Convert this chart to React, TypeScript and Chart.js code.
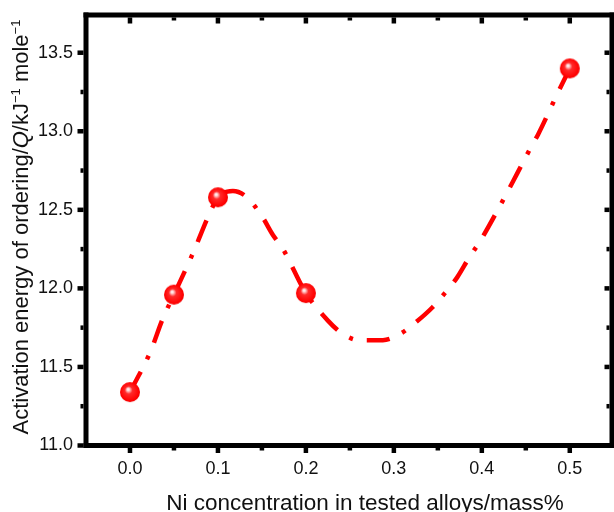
import React, { useEffect, useRef } from "react";
import { Chart, registerables } from "chart.js";

Chart.register(...registerables);

// Measured data points
const concentration = [0, 0.05, 0.1, 0.2, 0.5];
const activationEnergy = [11.34, 11.96, 12.58, 11.97, 13.4];

// Fitted curve
const curveX = [0, 0.0227, 0.0375, 0.05, 0.0705, 0.094, 0.1, 0.117, 0.133, 0.151, 0.1625, 0.173, 0.2, 0.225, 0.242, 0.261, 0.2875, 0.307, 0.324, 0.344, 0.358, 0.372, 0.386, 0.398, 0.424, 0.441, 0.457, 0.464, 0.486, 0.5];
const curveY = [11.34, 11.59, 11.81, 11.96, 12.21, 12.52, 12.58, 12.62, 12.58, 12.45, 12.34, 12.26, 11.97, 11.795, 11.71, 11.67, 11.67, 11.71, 11.78, 11.88, 11.97, 12.07, 12.2, 12.3, 12.56, 12.74, 12.91, 12.98, 13.24, 13.4];

const xTickValues = [0, 0.1, 0.2, 0.3, 0.4, 0.5];
const xMinorTicks = [0.05, 0.15, 0.25, 0.35, 0.45];
const yTickValues = [11.0, 11.5, 12.0, 12.5, 13.0, 13.5];
const yMinorTicks = [11.25, 11.75, 12.25, 12.75, 13.25];

const xTitle = "Ni concentration in tested alloys/mass%";
const yTitleParts = [
  { text: "Activation energy of ordering/", style: "normal" },
  { text: "Q", style: "italic" },
  { text: "/kJ", style: "normal" },
  { text: "\u22121", style: "sup" },
  { text: " mole", style: "normal" },
  { text: "\u22121", style: "sup" },
];

const FONT = '"Liberation Sans", Arial, Helvetica, sans-serif';

function makeSphere(): HTMLCanvasElement {
  const c = document.createElement("canvas");
  c.width = 22;
  c.height = 22;
  const g = c.getContext("2d")!;
  const grad = g.createRadialGradient(9, 8, 0, 11, 11, 11);
  grad.addColorStop(0, "#ffffff");
  grad.addColorStop(0.12, "#ffd6d6");
  grad.addColorStop(0.35, "#ff2a2a");
  grad.addColorStop(0.85, "#ff0000");
  grad.addColorStop(1, "#d80000");
  g.fillStyle = grad;
  g.beginPath();
  g.arc(11, 11, 10, 0, Math.PI * 2);
  g.fill();
  return c;
}

const zeroPad = (s: any) => {
  s.paddingTop = 0;
  s.paddingBottom = 0;
  s.paddingLeft = 0;
  s.paddingRight = 0;
};

const framePlugin = {
  id: "framePlugin",
  afterDraw(chart: any) {
    const ctx = chart.ctx;
    const { left, right, top, bottom } = chart.chartArea;
    const xs = chart.scales.x;
    const ys = chart.scales.y;
    ctx.save();
    ctx.fillStyle = "#000";
    const lw = 5;
    // frame
    ctx.fillRect(left - lw / 2, top - lw / 2, right - left + lw, lw);
    ctx.fillRect(left - lw / 2, bottom - lw / 2, right - left + lw, lw);
    ctx.fillRect(left - lw / 2, top - lw / 2, lw, bottom - top + lw);
    ctx.fillRect(right - lw / 2, top - lw / 2, lw, bottom - top + lw);
    // ticks
    const tw = 4.5;
    xTickValues.forEach((v) => {
      const px = xs.getPixelForValue(v);
      ctx.fillRect(px - tw / 2, bottom + lw / 2, tw, 5);
      ctx.fillRect(px - tw / 2, top + lw / 2, tw, 6);
    });
    xMinorTicks.forEach((v) => {
      const px = xs.getPixelForValue(v);
      ctx.fillRect(px - tw / 2, bottom + lw / 2, tw, 2.5);
      ctx.fillRect(px - tw / 2, top + lw / 2, tw, 3);
    });
    yTickValues.forEach((v) => {
      const py = ys.getPixelForValue(v);
      ctx.fillRect(left - lw / 2 - 6, py - tw / 2, 6, tw);
      ctx.fillRect(right - lw / 2 - 5, py - tw / 2, 5, tw);
    });
    yMinorTicks.forEach((v) => {
      const py = ys.getPixelForValue(v);
      ctx.fillRect(left - lw / 2 - 3, py - tw / 2, 3, tw);
      ctx.fillRect(right - lw / 2 - 3, py - tw / 2, 3, tw);
    });

    // x title
    ctx.fillStyle = "#111";
    ctx.font = `22.5px ${FONT}`;
    ctx.textAlign = "center";
    ctx.textBaseline = "alphabetic";
    ctx.fillText(xTitle, 365, 510);

    // y title with italic Q and superscripts
    const fonts: Record<string, string> = {
      normal: `22px ${FONT}`,
      italic: `italic 22px ${FONT}`,
      sup: `13px ${FONT}`,
    };
    let total = 0;
    const widths = yTitleParts.map((p) => {
      ctx.font = fonts[p.style];
      const w = ctx.measureText(p.text).width;
      total += w;
      return w;
    });
    ctx.translate(28, 227);
    ctx.rotate(-Math.PI / 2);
    ctx.textAlign = "left";
    let x = -total / 2;
    yTitleParts.forEach((p, i) => {
      ctx.font = fonts[p.style];
      ctx.fillText(p.text, x, p.style === "sup" ? -8 : 0);
      x += widths[i];
    });
    ctx.restore();
  },
};

export default function App() {
  const ref = useRef<HTMLCanvasElement>(null);
  useEffect(() => {
    if (!ref.current) return;
    const sphere = makeSphere();
    const chart = new Chart(ref.current, {
      type: "scatter",
      data: {
        datasets: [
          {
            type: "scatter",
            data: concentration.map((x, i) => ({ x, y: activationEnergy[i] })),
            pointStyle: sphere as any,
            pointRadius: 10,
            order: 0,
          } as any,
          {
            type: "line",
            data: curveX.map((x, i) => ({ x, y: curveY[i] })),
            borderColor: "#ff0000",
            borderWidth: 4.5,
            borderDash: [23, 14, 4, 14],
            cubicInterpolationMode: "monotone",
            pointRadius: 0,
            fill: false,
            order: 1,
          } as any,
        ],
      },
      options: {
        responsive: false,
        animation: false,
        devicePixelRatio: 1,
        layout: { autoPadding: false, padding: { left: 0, right: 2, top: 15, bottom: 0 } },
        plugins: { legend: { display: false }, tooltip: { enabled: false } },
        events: [],
        scales: {
          x: {
            type: "linear",
            min: -0.05,
            max: 0.548,
            grid: { display: false, drawTicks: false },
            border: { display: false },
            afterBuildTicks: (s: any) => {
              s.ticks = xTickValues.map((value) => ({ value }));
            },
            afterFit: (s: any) => {
              s.height = 66.5;
              zeroPad(s);
            },
            ticks: {
              padding: 13,
              color: "#111",
              font: { family: FONT, size: 18 },
              maxRotation: 0,
              callback: (v: any) => Number(v).toFixed(1),
            },
          },
          y: {
            type: "linear",
            min: 11.0,
            max: 13.74,
            grid: { display: false, drawTicks: false },
            border: { display: false },
            afterBuildTicks: (s: any) => {
              s.ticks = yTickValues.map((value) => ({ value }));
            },
            afterFit: (s: any) => {
              s.width = 86;
              zeroPad(s);
            },
            ticks: {
              padding: 13,
              color: "#111",
              font: { family: FONT, size: 18 },
              callback: (v: any) => Number(v).toFixed(1),
            },
          },
        },
      },
      plugins: [framePlugin],
    });
    return () => chart.destroy();
  }, []);
  return (
    <div style={{ position: "absolute", left: 0, top: 0, width: 614, height: 512, background: "#fff" }}>
      <canvas ref={ref} width={614} height={512} />
    </div>
  );
}
